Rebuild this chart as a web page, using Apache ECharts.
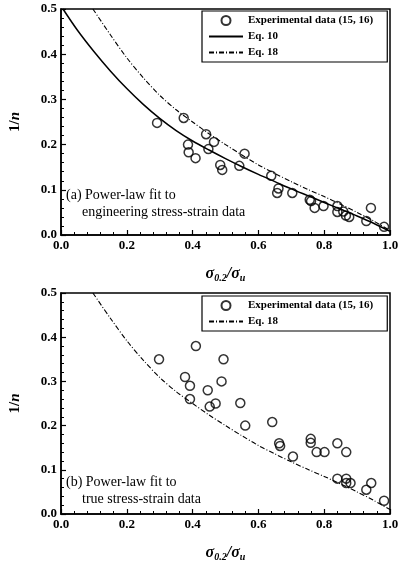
<!DOCTYPE html>
<html>
<head>
<meta charset="utf-8">
<script src="https://cdn.jsdelivr.net/npm/echarts@6/dist/echarts.min.js"></script>
<style>
html, body { margin: 0; padding: 0; background: #fff; }
#chart { width: 402px; height: 564px; }
</style>
</head>
<body>
<div id="chart"></div>
<script>
// (a) engineering stress-strain data
var engX = [0.292, 0.373, 0.386, 0.388, 0.409, 0.441, 0.448, 0.465, 0.484, 0.490, 0.542, 0.558, 0.639, 0.661, 0.657, 0.703, 0.756, 0.760, 0.771, 0.798, 0.840, 0.840, 0.858, 0.866, 0.876, 0.928, 0.942, 0.982];
var engY = [0.248, 0.259, 0.200, 0.183, 0.170, 0.223, 0.190, 0.206, 0.155, 0.144, 0.153, 0.180, 0.131, 0.103, 0.093, 0.093, 0.078, 0.075, 0.060, 0.064, 0.064, 0.051, 0.052, 0.043, 0.040, 0.031, 0.060, 0.018];

// (b) true stress-strain data
var trueX = [0.298, 0.410, 0.494, 0.377, 0.392, 0.392, 0.446, 0.452, 0.470, 0.488, 0.545, 0.560, 0.642, 0.663, 0.666, 0.705, 0.759, 0.759, 0.777, 0.801, 0.840, 0.867, 0.840, 0.867, 0.867, 0.880, 0.928, 0.943, 0.982];
var trueY = [0.350, 0.380, 0.350, 0.310, 0.290, 0.260, 0.280, 0.243, 0.250, 0.300, 0.251, 0.200, 0.208, 0.160, 0.154, 0.130, 0.170, 0.161, 0.140, 0.140, 0.160, 0.140, 0.080, 0.080, 0.070, 0.070, 0.055, 0.070, 0.030];

// curves
var eq10X = [0.006, 0.05, 0.10, 0.15, 0.20, 0.25, 0.30, 0.35, 0.40, 0.45, 0.50, 0.55, 0.60, 0.65, 0.70, 0.75, 0.80, 0.85, 0.90, 0.95, 1.00];
var eq10Y = [0.500, 0.453, 0.406, 0.363, 0.324, 0.289, 0.258, 0.231, 0.208, 0.188, 0.169, 0.151, 0.134, 0.118, 0.102, 0.087, 0.072, 0.057, 0.042, 0.026, 0.008];
var eq18X = [0.097, 0.15, 0.20, 0.25, 0.30, 0.35, 0.40, 0.45, 0.50, 0.55, 0.60, 0.65, 0.70, 0.75, 0.80, 0.85, 0.90, 0.95, 1.00];
var eq18Y = [0.500, 0.443, 0.392, 0.348, 0.309, 0.277, 0.250, 0.224, 0.200, 0.177, 0.155, 0.136, 0.118, 0.101, 0.085, 0.068, 0.050, 0.031, 0.010];

var xTicks = [0.0, 0.2, 0.4, 0.6, 0.8, 1.0];
var yTicks = [0.0, 0.1, 0.2, 0.3, 0.4, 0.5];

var serif = '"Liberation Serif", "DejaVu Serif", serif';

function pairs(xs, ys){
	var out = [];
	for(var i=0; i<xs.length; i++)
		out.push([xs[i], ys[i]]);
	return out;
}

function xAxisFor(idx){
	return {
		type: 'value', gridIndex: idx,
		min: xTicks[0], max: xTicks[xTicks.length-1], interval: 0.2,
		name: '{s|σ}{sub|0.2}{s|/σ}{sub|u}',
		nameLocation: 'middle', nameGap: 30,
		nameTextStyle: {
			rich: {
				s: { fontFamily: serif, fontStyle: 'italic', fontWeight: 'bold', fontSize: 16, color: '#000' },
				sub: { fontFamily: serif, fontStyle: 'italic', fontWeight: 'bold', fontSize: 10, color: '#000', padding: [8, 0, 0, 0] }
			}
		},
		axisLine: { onZero: false, lineStyle: { color: '#000', width: 1.5 } },
		axisTick: { inside: true, length: 5, lineStyle: { color: '#000', width: 1.2 } },
		minorTick: { show: true, splitNumber: 5, length: 3, lineStyle: { color: '#000', width: 1 } },
		splitLine: { show: false },
		axisLabel: {
			margin: 4, color: '#000', fontFamily: serif, fontWeight: 'bold', fontSize: 13,
			formatter: function(v){ return v.toFixed(1); }
		}
	};
}

function yAxisFor(idx){
	return {
		type: 'value', gridIndex: idx,
		min: yTicks[0], max: yTicks[yTicks.length-1], interval: 0.1,
		name: '{b|1/}{i|n}',
		nameLocation: 'middle', nameGap: 38, nameRotate: 90,
		nameTextStyle: {
			rich: {
				b: { fontFamily: serif, fontWeight: 'bold', fontSize: 15, color: '#000' },
				i: { fontFamily: serif, fontStyle: 'italic', fontWeight: 'bold', fontSize: 15, color: '#000' }
			}
		},
		axisLine: { onZero: false, lineStyle: { color: '#000', width: 1.5 } },
		axisTick: { inside: true, length: 5, lineStyle: { color: '#000', width: 1.2 } },
		minorTick: { show: true, splitNumber: 5, length: 3, lineStyle: { color: '#000', width: 1 } },
		splitLine: { show: false },
		axisLabel: {
			margin: 4, color: '#000', fontFamily: serif, fontWeight: 'bold', fontSize: 13,
			formatter: function(v){ return v.toFixed(1); }
		}
	};
}

var expStyle = { color: 'transparent', borderColor: '#000', borderWidth: 1.5 };
var dashDot = [5, 2, 1, 2];
var noDot = { opacity: 0 };

var chart = echarts.init(document.getElementById('chart'));

var options = {
	backgroundColor: '#fff',
	animation: false,
	grid: [
		{ left: 58, top: 9, width: 332, height: 226, show: true, borderColor: '#000', borderWidth: 1.5 },
		{ left: 58, top: 293, width: 332, height: 221, show: true, borderColor: '#000', borderWidth: 1.5 }
	],
	xAxis: [ xAxisFor(0), xAxisFor(1) ],
	yAxis: [ yAxisFor(0), yAxisFor(1) ],
	legend: [
		{
			left: 202, top: 11, orient: 'vertical', itemGap: 5, itemWidth: 34, itemHeight: 9,
			padding: [4, 14, 4, 6],
			borderColor: '#000', borderWidth: 1.2, borderRadius: 0,
			data: [
				{ name: 'Experimental data (15, 16)' },
				{ name: 'Eq. 10', itemStyle: noDot },
				{ name: 'Eq. 18', itemStyle: noDot }
			],
			textStyle: { fontFamily: serif, fontWeight: 'bold', fontSize: 11, color: '#000' }
		},
		{
			left: 202, top: 296, orient: 'vertical', itemGap: 5, itemWidth: 34, itemHeight: 9,
			padding: [4, 14, 4, 6],
			borderColor: '#000', borderWidth: 1.2, borderRadius: 0,
			data: [
				{ name: 'Experimental data (15, 16)' },
				{ name: 'Eq. 18', itemStyle: noDot }
			],
			textStyle: { fontFamily: serif, fontWeight: 'bold', fontSize: 11, color: '#000' }
		}
	],
	graphic: [
		{ type: 'text', left: 66, top: 188, style: { text: '(a) Power-law fit to', font: '14px ' + serif, fill: '#000' } },
		{ type: 'text', left: 82, top: 205, style: { text: 'engineering stress-strain data', font: '14px ' + serif, fill: '#000' } },
		{ type: 'text', left: 66, top: 475, style: { text: '(b) Power-law fit to', font: '14px ' + serif, fill: '#000' } },
		{ type: 'text', left: 82, top: 492, style: { text: 'true stress-strain data', font: '14px ' + serif, fill: '#000' } }
	],
	series: [
		{
			name: 'Eq. 10', type: 'line', xAxisIndex: 0, yAxisIndex: 0,
			data: pairs(eq10X, eq10Y), smooth: 0.3, symbol: 'none',
			lineStyle: { color: '#000', width: 1.5 }, itemStyle: { color: '#000' }
		},
		{
			name: 'Eq. 18', type: 'line', xAxisIndex: 0, yAxisIndex: 0,
			data: pairs(eq18X, eq18Y), smooth: 0.3, symbol: 'none',
			lineStyle: { color: '#000', width: 1.1, type: dashDot }, itemStyle: { color: '#000' }
		},
		{
			name: 'Experimental data (15, 16)', type: 'scatter', xAxisIndex: 0, yAxisIndex: 0,
			data: pairs(engX, engY), symbol: 'circle', symbolSize: 9, itemStyle: expStyle
		},
		{
			name: 'Eq. 18', type: 'line', xAxisIndex: 1, yAxisIndex: 1,
			data: pairs(eq18X, eq18Y), smooth: 0.3, symbol: 'none',
			lineStyle: { color: '#000', width: 1.1, type: dashDot }, itemStyle: { color: '#000' }
		},
		{
			name: 'Experimental data (15, 16)', type: 'scatter', xAxisIndex: 1, yAxisIndex: 1,
			data: pairs(trueX, trueY), symbol: 'circle', symbolSize: 9, itemStyle: expStyle
		}
	]
};

chart.setOption(options);
</script>
</body>
</html>
